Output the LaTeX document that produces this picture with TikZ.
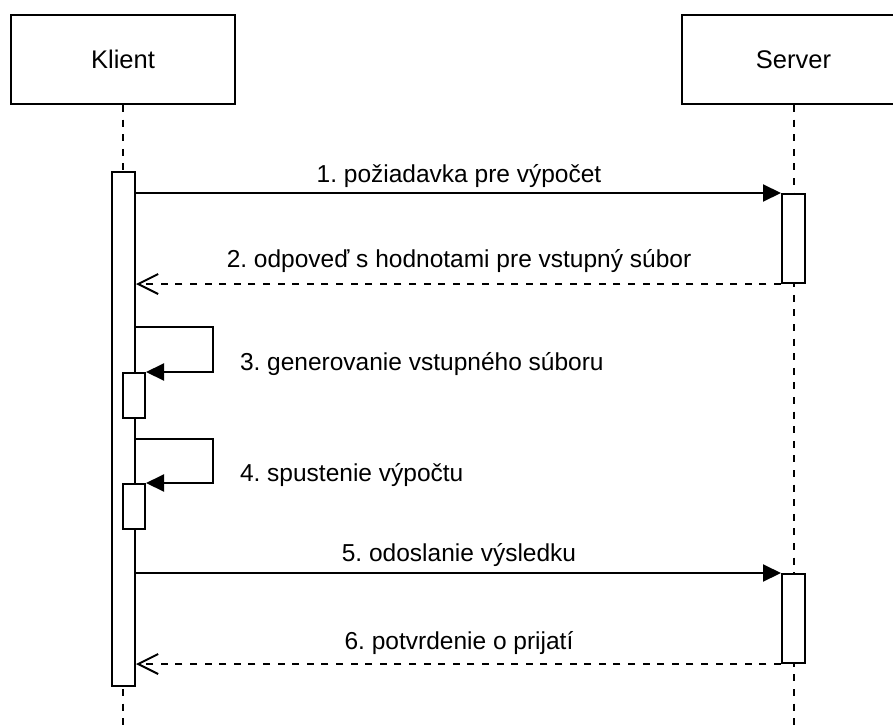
\documentclass[tikz,border=0pt]{standalone}
\usepackage{fontspec}
\setmainfont{Liberation Sans}
\usetikzlibrary{arrows.meta,calc}
\frenchspacing

\begin{document}
\begin{tikzpicture}[
  x=1pt, y=-1pt,
  line width=2pt,
  font=\fontsize{24.5}{30}\selectfont,
  actor/.style={draw, fill=white, minimum width=224pt, minimum height=89pt, inner sep=0pt},
  lifeline/.style={dash pattern=on 7pt off 7.6pt},
  activation/.style={draw, fill=white, inner sep=0pt},
  msg/.style={-{Triangle[length=18pt,width=17pt]}},
  reply/.style={dash pattern=on 7pt off 7.6pt, -{Straight Barb[length=20pt,width=20pt]}},
  lbl/.style={inner sep=0pt, anchor=base}
]
\clip (0,0) rectangle (893,725);
\fill[white] (0,0) rectangle (893,725);

% participants
\node[actor, font=\fontsize{25.5}{30}\selectfont] (klient) at (123,59.5) {Klient};
\node[actor, font=\fontsize{25.5}{30}\selectfont] (server) at (793.5,59.5) {Server};

% lifelines
\coordinate (kend) at (123,725);
\coordinate (send) at (793.5,725);
\draw[lifeline] (klient.south) -- (kend);
\draw[lifeline] (server.south) -- (send);

% activation bars
\node[activation, minimum width=23pt, minimum height=514pt] (actK) at (123.5,429) {};
\node[activation, minimum width=22pt, minimum height=45pt] (actC1) at (134,395.5) {};
\node[activation, minimum width=22pt, minimum height=45pt] (actC2) at (134,506.5) {};
\node[activation, minimum width=23pt, minimum height=89pt] (actS1) at (793.5,238.5) {};
\node[activation, minimum width=23pt, minimum height=89pt] (actS2) at (793.5,618.5) {};

% 1 / 2
\draw[msg] (actK.east |- actS1.north) -- (actS1.north west);
\node[lbl] (t1) at (459,182) {1. požiadavka pre výpočet};
\draw[reply] (actS1.south west) -- (actK.east |- actS1.south);
\node[lbl] (t2) at (459,267.5) {2. odpoveď s hodnotami pre vstupný súbor};

% 3 (self call)
\coordinate (l3) at ($(actK.east |- actC1.north)+(0,-45)$);
\draw[msg] (l3) -- ++(77,0) |- (actC1.north east);
\node[lbl, anchor=base west] (t3) at (239,370) {3. generovanie vstupného súboru};

% 4 (self call)
\coordinate (l4) at ($(actK.east |- actC2.north)+(0,-44)$);
\draw[msg] (l4) -- ++(77,0) |- (actC2.north east);
\node[lbl, anchor=base west] (t4) at (239,481.5) {4. spustenie výpočtu};

% 5 / 6
\draw[msg] (actK.east |- actS2.north) -- (actS2.north west);
\node[lbl] (t5) at (459,561) {5. odoslanie výsledku};
\draw[reply] (actS2.south west) -- (actK.east |- actS2.south);
\node[lbl] (t6) at (459,649.5) {6. potvrdenie o prijatí};
\end{tikzpicture}
\end{document}
